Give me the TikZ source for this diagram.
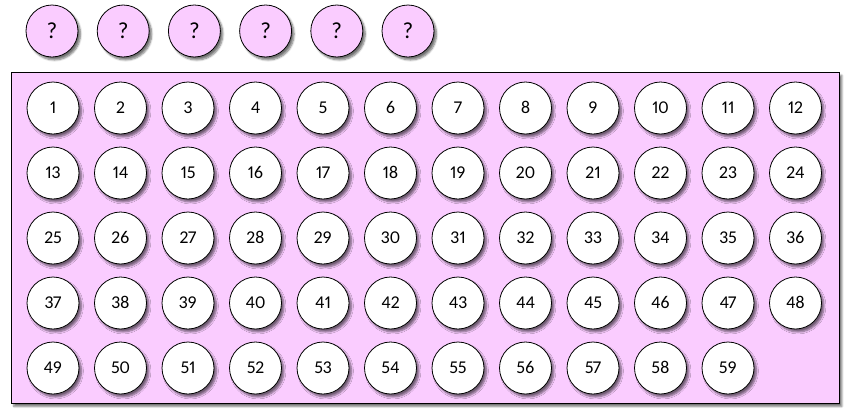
\documentclass[tikz,border=0pt]{standalone}
\usepackage{fontspec}
\setmainfont{Carlito}[Numbers={Lining,Proportional}]
\usetikzlibrary{shadows.blur}
\definecolor{pinkfill}{RGB}{250,204,255}
\tikzset{
  ball/.style={circle, draw=black, thick, minimum size=52pt, inner sep=0pt,
    blur shadow={shadow xshift=2.5pt, shadow yshift=-3pt, shadow blur steps=6, shadow opacity=55}},
  numball/.style={ball, fill=white, font=\fontsize{18pt}{21pt}\selectfont,
    text height=11.4pt, text depth=0pt},
  qball/.style={ball, fill=pinkfill, font=\fontsize{23pt}{27pt}\selectfont},
  board/.style={draw=black, thick, fill=pinkfill,
    blur shadow={shadow xshift=2.5pt, shadow yshift=-3pt, shadow blur steps=6, shadow opacity=55}}
}
\begin{document}
\begin{tikzpicture}[x=1pt,y=-1pt]
\useasboundingbox (0,0) rectangle (857,413);
\foreach \i in {0,...,5} {
  \node[qball] (q\i) at ({52+71.2*\i},31) {?};
}
\node[board, minimum width=828pt, minimum height=331pt, inner sep=0pt, anchor=north west] (box) at (11,72) {};
\foreach \n in {1,...,59} {
  \pgfmathtruncatemacro{\c}{mod(\n-1,12)}
  \pgfmathtruncatemacro{\r}{(\n-1)/12}
  \node[numball] (n\n) at ({53+67.5*\c},{108+65*\r}) {\n};
}
\end{tikzpicture}
\end{document}
